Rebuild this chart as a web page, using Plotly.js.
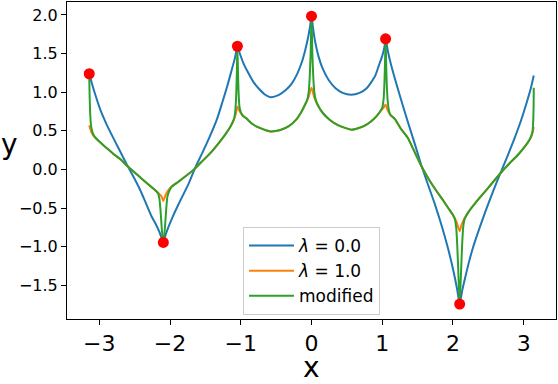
<!DOCTYPE html>
<html>
<head>
<meta charset="utf-8">
<script src="https://cdn.plot.ly/plotly-3.0.1.min.js"></script>
<style>
  html, body { margin: 0; padding: 0; background: #fff; }
  #chart { width: 558px; height: 384px; }
</style>
</head>
<body>
<div id="chart"></div>
<script>
// node points (red dots)
const nodeX = [-3.1416, -2.0944, -1.0472, 0, 1.0472, 2.0944];
const nodeY = [1.238, -0.946, 1.594, 1.983, 1.69, -1.743];

// lambda = 0.0 (blue)
const blueX = [-3.1416, -3.10, -3.05, -2.98, -2.90, -2.82, -2.72, -2.62, -2.52, -2.42, -2.34, -2.26, -2.20, -2.15, -2.0944,
  -2.06, -2.02, -1.97, -1.90, -1.82, -1.74, -1.64, -1.54, -1.44, -1.34, -1.26, -1.19, -1.13, -1.08, -1.0472,
  -1.01, -0.96, -0.90, -0.82, -0.74, -0.66, -0.58, -0.46, -0.36, -0.28, -0.20, -0.14, -0.09, -0.05, -0.02, 0,
  0.02, 0.05, 0.10, 0.16, 0.24, 0.34, 0.44, 0.56, 0.68, 0.78, 0.86, 0.90, 0.95, 1.00, 1.03, 1.0472,
  1.08, 1.12, 1.18, 1.26, 1.36, 1.46, 1.55, 1.64, 1.74, 1.84, 1.92, 1.98, 2.03, 2.06, 2.0944,
  2.13, 2.17, 2.22, 2.28, 2.36, 2.46, 2.56, 2.66, 2.76, 2.86, 2.96, 3.04, 3.10, 3.1416];
const blueY = [1.238, 1.10, 0.95, 0.76, 0.59, 0.44, 0.26, 0.08, -0.09, -0.27, -0.44, -0.61, -0.71, -0.81, -0.946,
  -0.84, -0.74, -0.63, -0.49, -0.34, -0.19, 0.03, 0.22, 0.42, 0.64, 0.87, 1.08, 1.28, 1.45, 1.594,
  1.49, 1.37, 1.26, 1.13, 1.04, 0.97, 0.935, 0.965, 1.03, 1.11, 1.24, 1.38, 1.54, 1.70, 1.85, 1.983,
  1.84, 1.66, 1.46, 1.30, 1.16, 1.05, 0.99, 0.966, 0.99, 1.05, 1.15, 1.21, 1.34, 1.47, 1.58, 1.69,
  1.53, 1.37, 1.17, 0.92, 0.62, 0.33, 0.06, -0.18, -0.44, -0.73, -0.99, -1.21, -1.42, -1.56, -1.743,
  -1.57, -1.41, -1.22, -1.02, -0.80, -0.54, -0.30, -0.07, 0.15, 0.38, 0.63, 0.86, 1.05, 1.216];

// lambda = 1.0 (orange)
const orangeX = [-3.1416, -3.11, -3.07, -3.00, -2.90, -2.80, -2.70, -2.60, -2.50, -2.40, -2.30, -2.22, -2.16, -2.12, -2.0944,
  -2.07, -2.04, -1.98, -1.88, -1.78, -1.66, -1.54, -1.42, -1.32, -1.22, -1.14, -1.09, -1.07, -1.0472,
  -1.02, -0.98, -0.92, -0.84, -0.74, -0.58, -0.44, -0.32, -0.22, -0.14, -0.08, -0.04, 0,
  0.04, 0.09, 0.16, 0.26, 0.38, 0.57, 0.74, 0.84, 0.92, 0.98, 1.02, 1.0472,
  1.07, 1.11, 1.18, 1.26, 1.36, 1.46, 1.56, 1.66, 1.76, 1.86, 1.94, 2.00, 2.05, 2.0944,
  2.12, 2.16, 2.22, 2.32, 2.44, 2.56, 2.68, 2.80, 2.92, 3.02, 3.08, 3.12, 3.1416];
const orangeY = [0.57, 0.48, 0.42, 0.36, 0.28, 0.20, 0.13, 0.04, -0.04, -0.12, -0.20, -0.26, -0.31, -0.35, -0.41,
  -0.35, -0.29, -0.22, -0.16, -0.09, 0.00, 0.11, 0.22, 0.33, 0.45, 0.56, 0.66, 0.72, 0.815,
  0.76, 0.71, 0.66, 0.59, 0.54, 0.492, 0.51, 0.56, 0.64, 0.75, 0.86, 0.94, 1.057,
  0.93, 0.83, 0.73, 0.64, 0.57, 0.514, 0.56, 0.62, 0.69, 0.76, 0.80, 0.84,
  0.78, 0.71, 0.65, 0.53, 0.41, 0.22, 0.03, -0.13, -0.27, -0.40, -0.51, -0.59, -0.68, -0.80,
  -0.72, -0.64, -0.55, -0.43, -0.30, -0.17, -0.04, 0.08, 0.19, 0.30, 0.38, 0.46, 0.55];

// modified (green)
const greenX = [-3.1416, -3.136, -3.128, -3.115, -3.095, -3.07, -3.00, -2.90, -2.80, -2.70, -2.60, -2.50, -2.40, -2.30, -2.22,
  -2.17, -2.15, -2.135, -2.12, -2.107, -2.0944, -2.082, -2.069, -2.054, -2.038, -2.02,
  -1.98, -1.88, -1.78, -1.66, -1.54, -1.42, -1.32, -1.22, -1.15, -1.11,
  -1.09, -1.075, -1.063, -1.055, -1.0472, -1.039, -1.031, -1.019, -1.00, -0.97,
  -0.92, -0.84, -0.74, -0.58, -0.44, -0.32, -0.22, -0.14, -0.09,
  -0.06, -0.04, -0.025, -0.012, 0, 0.012, 0.025, 0.04, 0.06,
  0.09, 0.16, 0.26, 0.38, 0.57, 0.74, 0.84, 0.92, 0.97,
  1.00, 1.018, 1.03, 1.039, 1.0472, 1.055, 1.064, 1.076, 1.095, 1.12,
  1.18, 1.26, 1.36, 1.46, 1.56, 1.66, 1.76, 1.86, 1.94, 2.00,
  2.025, 2.045, 2.06, 2.075, 2.0944, 2.114, 2.129, 2.144, 2.165,
  2.22, 2.32, 2.44, 2.56, 2.68, 2.80, 2.92, 3.02, 3.08, 3.11, 3.125, 3.135, 3.14, 3.1416];
const greenY = [1.20, 0.95, 0.72, 0.56, 0.48, 0.43, 0.36, 0.28, 0.20, 0.13, 0.04, -0.04, -0.12, -0.20, -0.26,
  -0.31, -0.38, -0.52, -0.72, -0.87, -0.946, -0.87, -0.72, -0.52, -0.36, -0.30,
  -0.23, -0.16, -0.09, 0.00, 0.11, 0.22, 0.33, 0.45, 0.55, 0.62,
  0.67, 0.78, 1.00, 1.25, 1.594, 1.25, 1.00, 0.82, 0.74, 0.69,
  0.66, 0.59, 0.54, 0.492, 0.51, 0.56, 0.64, 0.75, 0.84,
  0.90, 1.00, 1.20, 1.50, 1.983, 1.50, 1.20, 1.00, 0.90,
  0.83, 0.73, 0.64, 0.57, 0.514, 0.56, 0.62, 0.69, 0.75,
  0.80, 0.90, 1.10, 1.38, 1.69, 1.38, 1.10, 0.90, 0.76, 0.70,
  0.65, 0.53, 0.41, 0.22, 0.03, -0.13, -0.27, -0.40, -0.51, -0.59,
  -0.64, -0.75, -0.98, -1.32, -1.743, -1.32, -0.98, -0.75, -0.64,
  -0.55, -0.43, -0.30, -0.17, -0.04, 0.08, 0.19, 0.30, 0.38, 0.44, 0.50, 0.65, 0.85, 1.056];

const xTicks = [-3, -2, -1, 0, 1, 2, 3];
const yTicks = [-1.5, -1.0, -0.5, 0.0, 0.5, 1.0, 1.5, 2.0];

const FONT = 'DejaVu Sans, sans-serif';

const traces = [
  { x: blueX, y: blueY, mode: 'lines', name: '<i>λ</i> = 0.0',
    line: { color: '#1f77b4', width: 2, shape: 'spline', smoothing: 0.6 } },
  { x: orangeX, y: orangeY, mode: 'lines', name: '<i>λ</i> = 1.0',
    line: { color: '#ff7f0e', width: 2, shape: 'spline', smoothing: 0.6 } },
  { x: greenX, y: greenY, mode: 'lines', name: 'modified',
    line: { color: '#2ca02c', width: 2, shape: 'spline', smoothing: 0.5 } },
  { x: nodeX, y: nodeY, mode: 'markers', showlegend: false,
    marker: { color: '#ff0000', size: 11 } }
];

const layout = {
  width: 558, height: 384,
  margin: { l: 67, r: 2, t: 2, b: 65 },
  paper_bgcolor: '#fff', plot_bgcolor: '#fff',
  font: { family: FONT, color: '#000' },
  showlegend: true,
  xaxis: {
    range: [-3.456, 3.456],
    tickvals: xTicks,
    ticks: 'outside', ticklen: 5, tickwidth: 1, tickcolor: '#000',
    showline: true, mirror: true, linecolor: '#000', linewidth: 1,
    showgrid: false, zeroline: false,
    tickfont: { family: FONT, size: 22, color: '#000' }
  },
  yaxis: {
    range: [-1.937, 2.167],
    tickvals: yTicks, tickformat: '.1f',
    ticks: 'outside', ticklen: 5, tickwidth: 1, tickcolor: '#000',
    showline: true, mirror: true, linecolor: '#000', linewidth: 1,
    showgrid: false, zeroline: false,
    tickfont: { family: FONT, size: 16, color: '#000' }
  },
  legend: {
    x: 0.36, y: 0.29, xanchor: 'left', yanchor: 'top',
    itemwidth: 45,
    bgcolor: 'rgba(255,255,255,0.8)', bordercolor: '#cccccc', borderwidth: 1,
    font: { family: FONT, size: 17, color: '#000' }
  },
  annotations: [
    { text: 'y', xref: 'paper', yref: 'paper', x: -0.117, y: 0.55,
      xanchor: 'center', yanchor: 'middle', showarrow: false,
      font: { family: FONT, size: 28, color: '#000' } },
    { text: 'x', xref: 'paper', yref: 'paper', x: 0.5, y: -0.152,
      xanchor: 'center', yanchor: 'middle', showarrow: false,
      font: { family: FONT, size: 28, color: '#000' } }
  ]
};

Plotly.newPlot('chart', traces, layout, { displayModeBar: false, staticPlot: true });
</script>
</body>
</html>
